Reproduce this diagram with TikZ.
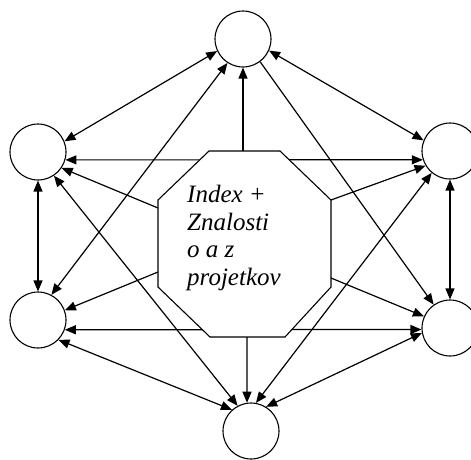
\documentclass[tikz,border=0pt]{standalone}
\usepackage{fontspec}
\setmainfont{Liberation Serif}
\usetikzlibrary{arrows.meta}
\tikzset{
  hub/.style={circle, draw, line width=1.1pt, minimum size=56pt, inner sep=0pt},
  link/.style={line width=1.2pt, -{Triangle[length=11pt,width=9pt]}},
  both/.style={link, {Triangle[length=11pt,width=9pt]}-{Triangle[length=11pt,width=9pt]}},
}
\begin{document}
\begin{tikzpicture}[x=1pt, y=-1pt]
\useasboundingbox (0,0) rectangle (471,459);
\node[hub] (t) at (243,39) {};
\node[hub] (ul) at (38,152) {};
\node[hub] (ur) at (450,151) {};
\node[hub] (ll) at (38,320) {};
\node[hub] (lr) at (450,328) {};
\node[hub] (b) at (251,431) {};
\draw[both] (ul.-16) -- (ur.198);
\draw[both] (ll.-20) -- (lr.183);
\draw[line width=1.1pt, fill=white] (209,151) -- (280,151) -- (331,200) -- (331,287)
  -- (285,337) -- (210,337) -- (158,287) -- (158,200) -- cycle;
\coordinate (ot) at (243,151);
\coordinate (ob) at (247,337);
\coordinate (oul) at (158,208);
\coordinate (oll) at (158,272);
\coordinate (our) at (331,200);
\coordinate (olr) at (331,278);
\node[font=\itshape\fontsize{25}{27.7}\selectfont, align=left, anchor=north west, inner sep=0pt]
  (idx) at (187,185) {Index +\\Znalosti\\o a z\\projetkov};
\foreach \a/\b in {ot/t.270, ob/b.98, oul/ul.-34, oll/ll.20, our/ur.211, olr/lr.156, t.-53/lr.125}
  \draw[link] (\a) -- (\b);
\foreach \a/\b in {t.205/ul.22, t.-24/ur.158, ul.-90/ll.90, ur.-90/lr.90, ll.-44/b.132,
  lr.190/b.58, ul.-56/b.118, ll.62/t.237, b.80/ur.230}
  \draw[both] (\a) -- (\b);
\end{tikzpicture}
\end{document}
